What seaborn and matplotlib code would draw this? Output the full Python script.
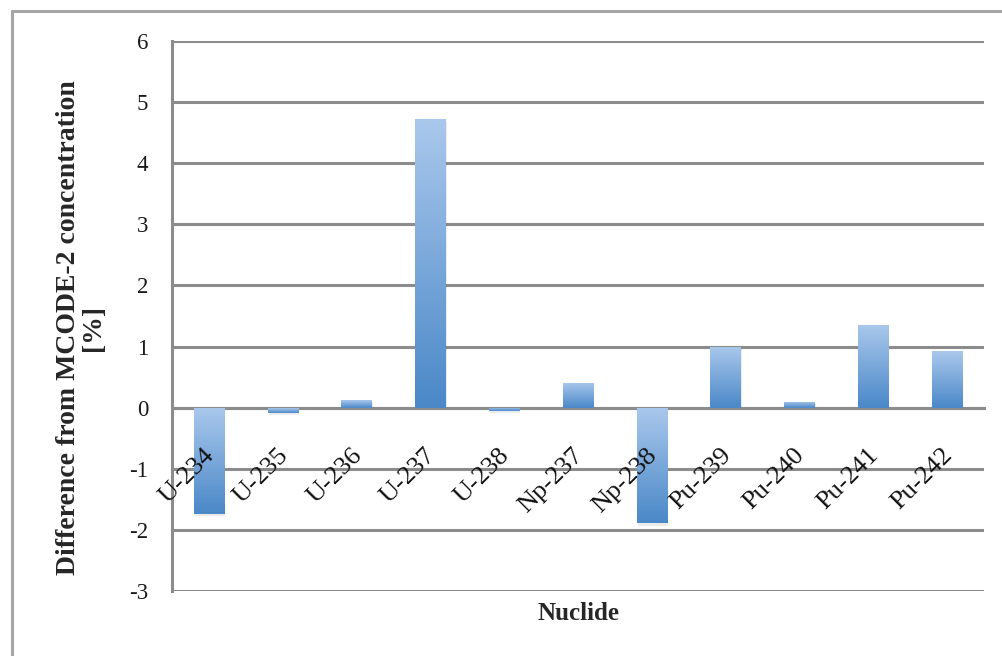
import matplotlib
matplotlib.use("Agg")
import matplotlib.pyplot as plt
import numpy as np
import pandas as pd
import seaborn as sns
from matplotlib.colors import LinearSegmentedColormap
from matplotlib.lines import Line2D
from matplotlib.patches import Rectangle

# values
nuclides = ["U-234", "U-235", "U-236", "U-237", "U-238", "Np-237",
            "Np-238", "Pu-239", "Pu-240", "Pu-241", "Pu-242"]
difference = [-1.74, -0.08, 0.13, 4.72, -0.05, 0.41,
              -1.89, 1.00, 0.10, 1.36, 0.92]
y_ticks = [-3, -2, -1, 0, 1, 2, 3, 4, 5, 6]

df = pd.DataFrame({"nuclide": nuclides, "difference": difference})

sns.set_style("white")
plt.rcParams["font.family"] = ["Liberation Serif", "DejaVu Serif"]

fig = plt.figure(figsize=(10.02, 6.56), dpi=100)
ax = fig.add_axes([0.1717, 0.0991, 0.9820 - 0.1717, 0.9375 - 0.0991])

grid_col = "#8c8c8c"
sns.barplot(data=df, x="nuclide", y="difference", ax=ax, width=0.41,
            color="#6a9fd8", edgecolor="none", zorder=3)

# vertical gradient fill for each bar (light on top, darker at bottom)
cmap = LinearSegmentedColormap.from_list("bar", ["#aac8ec", "#4a88c8"])
grad = np.linspace(0, 1, 256).reshape(-1, 1)
for p in ax.patches:
    x0, y0 = p.get_x(), p.get_y()
    w, h = p.get_width(), p.get_height()
    lo, hi = min(y0, y0 + h), max(y0, y0 + h)
    # soft shadow under the bar
    ax.add_patch(Rectangle((x0 + 0.015, lo - 0.04), w, hi - lo,
                           facecolor="#000000", alpha=0.08, lw=0, zorder=2))
    im = ax.imshow(grad, cmap=cmap, aspect="auto", extent=(x0, x0 + w, lo, hi),
                   origin="upper", zorder=4, interpolation="bicubic")
    im.set_clip_path(p)

ax.set_xlim(-0.5, len(nuclides) - 0.5)
ax.set_ylim(-3, 6)
ax.set_yticks(y_ticks)
ax.set_yticklabels([str(t) for t in y_ticks])
ax.yaxis.grid(True, color=grid_col, lw=2.2, zorder=1)
ax.set_axisbelow(True)

for s in ["top", "right"]:
    ax.spines[s].set_visible(False)
ax.spines["left"].set_color(grid_col)
ax.spines["left"].set_linewidth(2.2)
ax.spines["bottom"].set_position(("data", 0))
ax.spines["bottom"].set_color(grid_col)
ax.spines["bottom"].set_linewidth(2.2)

ax.set_xticks(np.arange(len(nuclides) + 1) - 0.5)
ax.set_xticklabels([])
ax.tick_params(axis="x", direction="out", length=7, width=2, color=grid_col)
ax.tick_params(axis="y", direction="out", length=7, width=2, color=grid_col,
               labelsize=16.5, pad=10, labelcolor="#1a1a1a")

# rotated category labels hanging below the zero line
for i, name in enumerate(nuclides):
    ax.text(i - 0.08, -0.6, name, rotation=45, rotation_mode="anchor",
            ha="right", va="top", fontsize=19, color="#111111", zorder=5)

ax.set_xlabel("")
ax.set_ylabel("")
fig.text(0.577, 0.065, "Nuclide", ha="center", va="center",
         fontsize=18, fontweight="bold")
fig.text(0.081, 0.50, "Difference from MCODE-2 concentration\n[%]",
         ha="center", va="center", rotation=90, fontsize=20,
         fontweight="bold", linespacing=1.0)

# outer chart-area frame: only the left and top edges fall inside the image
fx, fy = 12 / 1002, 1 - 11 / 656
fig.add_artist(Line2D([fx, fx], [0, fy], transform=fig.transFigure,
                      color="#a6a6a6", lw=2.2))
fig.add_artist(Line2D([fx, 1], [fy, fy], transform=fig.transFigure,
                      color="#a6a6a6", lw=2.2))

fig.savefig("out.png", dpi=100)
